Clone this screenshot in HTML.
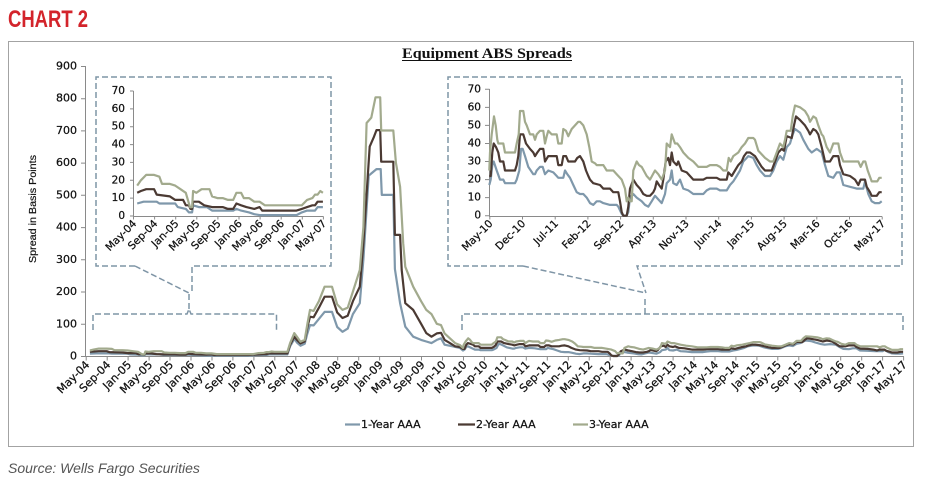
<!DOCTYPE html>
<html>
<head>
<meta charset="utf-8">
<style>
html,body{margin:0;padding:0;background:#fff;}
body{width:935px;height:494px;overflow:hidden;position:relative;}
svg{position:absolute;left:0;top:0;}
.ax{stroke:#8a8a8a;stroke-width:1;fill:none;}
.tk{font-family:"DejaVu Sans","Liberation Sans",sans-serif;fill:#111;stroke:#111;stroke-width:0.25;}
.yl{font-size:11px;text-anchor:end;dominant-baseline:central;}
.yi{font-size:10.5px;text-anchor:end;dominant-baseline:central;}
.xl{font-size:11px;text-anchor:end;dominant-baseline:central;}
.xi{font-size:10.5px;text-anchor:end;dominant-baseline:central;}
.dash{stroke:#7f95a6;stroke-width:1.5;fill:none;stroke-dasharray:6 3;}
.s1{stroke:#7f98ab;stroke-width:2.2;fill:none;stroke-linejoin:round;}
.s2{stroke:#4b3a33;stroke-width:2.2;fill:none;stroke-linejoin:round;}
.s3{stroke:#a2aa8d;stroke-width:2.2;fill:none;stroke-linejoin:round;}
</style>
</head>
<body>
<svg width="935" height="494" viewBox="0 0 935 494" xmlns="http://www.w3.org/2000/svg">
  <text x="8" y="27" transform="translate(8,0) scale(0.77,1) translate(-8,0)" style="font-family:'Liberation Sans Narrow','Liberation Sans',sans-serif;font-weight:bold;font-size:24px;fill:#d3242b;">CHART 2</text>

  <rect x="8.5" y="41.5" width="905" height="405" fill="#fff" stroke="#a3a3a3" stroke-width="1"/>

  <text x="487" y="58" textLength="170" lengthAdjust="spacingAndGlyphs" style="font-family:'Liberation Serif',serif;font-weight:bold;font-size:15px;fill:#111;text-anchor:middle;">Equipment ABS Spreads</text>
  <line x1="402" y1="60.5" x2="572" y2="60.5" stroke="#111" stroke-width="1"/>

  <text transform="translate(36,209) rotate(-90)" textLength="108" lengthAdjust="spacingAndGlyphs" style="font-family:'Liberation Sans',sans-serif;font-size:10.5px;fill:#111;stroke:#111;stroke-width:0.2;text-anchor:middle;">Spread in Basis Points</text>

  <path class="ax" d="M85.5,66 V356.5 H904"/>
  <path class="ax" d="M81,66.5H85.5M81,98.7H85.5M81,130.9H85.5M81,163.1H85.5M81,195.3H85.5M81,227.6H85.5M81,259.8H85.5M81,292H85.5M81,324.2H85.5M81,356.5H85.5"/>
  <g class="tk yl">
    <text x="77" y="66">900</text>
    <text x="77" y="98.2">800</text>
    <text x="77" y="130.4">700</text>
    <text x="77" y="162.6">600</text>
    <text x="77" y="194.9">500</text>
    <text x="77" y="227.1">400</text>
    <text x="77" y="259.3">300</text>
    <text x="77" y="291.5">200</text>
    <text x="77" y="323.8">100</text>
    <text x="77" y="356">0</text>
  </g>
  <path id="mxt" class="ax" d=""/>
  <g class="tk xl">
    <text transform="translate(87.7,363) rotate(-45)">May-04</text>
    <text transform="translate(108.7,363) rotate(-45)">Sep-04</text>
    <text transform="translate(129.6,363) rotate(-45)">Jan-05</text>
    <text transform="translate(150.6,363) rotate(-45)">May-05</text>
    <text transform="translate(171.5,363) rotate(-45)">Sep-05</text>
    <text transform="translate(192.5,363) rotate(-45)">Jan-06</text>
    <text transform="translate(213.5,363) rotate(-45)">May-06</text>
    <text transform="translate(234.4,363) rotate(-45)">Sep-06</text>
    <text transform="translate(255.4,363) rotate(-45)">Jan-07</text>
    <text transform="translate(276.3,363) rotate(-45)">May-07</text>
    <text transform="translate(297.3,363) rotate(-45)">Sep-07</text>
    <text transform="translate(318.2,363) rotate(-45)">Jan-08</text>
    <text transform="translate(339.2,363) rotate(-45)">May-08</text>
    <text transform="translate(360.2,363) rotate(-45)">Sep-08</text>
    <text transform="translate(381.1,363) rotate(-45)">Jan-09</text>
    <text transform="translate(402.1,363) rotate(-45)">May-09</text>
    <text transform="translate(423,363) rotate(-45)">Sep-09</text>
    <text transform="translate(444,363) rotate(-45)">Jan-10</text>
    <text transform="translate(465,363) rotate(-45)">May-10</text>
    <text transform="translate(485.9,363) rotate(-45)">Sep-10</text>
    <text transform="translate(506.9,363) rotate(-45)">Jan-11</text>
    <text transform="translate(527.8,363) rotate(-45)">May-11</text>
    <text transform="translate(548.8,363) rotate(-45)">Sep-11</text>
    <text transform="translate(569.7,363) rotate(-45)">Jan-12</text>
    <text transform="translate(590.7,363) rotate(-45)">May-12</text>
    <text transform="translate(611.7,363) rotate(-45)">Sep-12</text>
    <text transform="translate(632.6,363) rotate(-45)">Jan-13</text>
    <text transform="translate(653.6,363) rotate(-45)">May-13</text>
    <text transform="translate(674.6,363) rotate(-45)">Sep-13</text>
    <text transform="translate(695.5,363) rotate(-45)">Jan-14</text>
    <text transform="translate(716.5,363) rotate(-45)">May-14</text>
    <text transform="translate(737.4,363) rotate(-45)">Sep-14</text>
    <text transform="translate(758.4,363) rotate(-45)">Jan-15</text>
    <text transform="translate(779.3,363) rotate(-45)">May-15</text>
    <text transform="translate(800.3,363) rotate(-45)">Sep-15</text>
    <text transform="translate(821.3,363) rotate(-45)">Jan-16</text>
    <text transform="translate(842.2,363) rotate(-45)">May-16</text>
    <text transform="translate(863.2,363) rotate(-45)">Sep-16</text>
    <text transform="translate(884.1,363) rotate(-45)">Jan-17</text>
    <text transform="translate(905.1,363) rotate(-45)">May-17</text>
  </g>

  <polyline id="m1" class="s1" points=""/>
  <polyline id="m2" class="s2" points=""/>
  <polyline id="m3" class="s3" points=""/>

  <path class="dash" d="M93,330 V314 H187 L189,309 L191,314 H276.5 V330"/>
  <path class="dash" d="M189,309 V293"/>
  <path class="dash" d="M135,266 H96 V77 H331 V266 H192 V293"/>
  <path class="dash" d="M135,266 L189,293"/>

  <path class="dash" d="M462,330 V314 H903 V330"/>
  <path class="dash" d="M645,314 V298"/>
  <path class="dash" d="M523,266 H448 V77 H902 V266 H637 L646,293"/>
  <path class="dash" d="M523,266 L646,293"/>

  <path class="ax" d="M133.5,91 V216.5 H323.5"/>
  <path class="ax" d="M130,91H133.5M130,108.9H133.5M130,126.7H133.5M130,144.6H133.5M130,162.4H133.5M130,180.3H133.5M130,198.1H133.5M130,216H133.5"/>
  <path id="lxt" class="ax" d=""/>
  <g class="tk yi">
    <text x="125" y="91">70</text>
    <text x="125" y="108.9">60</text>
    <text x="125" y="126.7">50</text>
    <text x="125" y="144.6">40</text>
    <text x="125" y="162.4">30</text>
    <text x="125" y="180.3">20</text>
    <text x="125" y="198.1">10</text>
    <text x="125" y="216">0</text>
  </g>
  <g class="tk xi">
    <text transform="translate(135,222) rotate(-45)">May-04</text>
    <text transform="translate(156.1,222) rotate(-45)">Sep-04</text>
    <text transform="translate(177.2,222) rotate(-45)">Jan-05</text>
    <text transform="translate(198.3,222) rotate(-45)">May-05</text>
    <text transform="translate(219.4,222) rotate(-45)">Sep-05</text>
    <text transform="translate(240.5,222) rotate(-45)">Jan-06</text>
    <text transform="translate(261.6,222) rotate(-45)">May-06</text>
    <text transform="translate(282.7,222) rotate(-45)">Sep-06</text>
    <text transform="translate(303.8,222) rotate(-45)">Jan-07</text>
    <text transform="translate(324.9,222) rotate(-45)">May-07</text>
  </g>
  <polyline id="l1" class="s1" points=""/>
  <polyline id="l2" class="s2" points=""/>
  <polyline id="l3" class="s3" points=""/>

  <path class="ax" d="M489.5,89 V216.5 H882"/>
  <path class="ax" d="M485,89.3H489.5M485,107.4H489.5M485,125.4H489.5M485,143.5H489.5M485,161.5H489.5M485,179.6H489.5M485,197.6H489.5M485,215.7H489.5"/>
  <path id="rxt" class="ax" d=""/>
  <g class="tk yi">
    <text x="481" y="89.3">70</text>
    <text x="481" y="107.4">60</text>
    <text x="481" y="125.4">50</text>
    <text x="481" y="143.5">40</text>
    <text x="481" y="161.5">30</text>
    <text x="481" y="179.6">20</text>
    <text x="481" y="197.6">10</text>
    <text x="481" y="215.7">0</text>
  </g>
  <g class="tk xi">
    <text transform="translate(491.3,222) rotate(-45)">May-10</text>
    <text transform="translate(524,222) rotate(-45)">Dec-10</text>
    <text transform="translate(556.7,222) rotate(-45)">Jul-11</text>
    <text transform="translate(589.4,222) rotate(-45)">Feb-12</text>
    <text transform="translate(622.1,222) rotate(-45)">Sep-12</text>
    <text transform="translate(654.8,222) rotate(-45)">Apr-13</text>
    <text transform="translate(687.5,222) rotate(-45)">Nov-13</text>
    <text transform="translate(720.2,222) rotate(-45)">Jun-14</text>
    <text transform="translate(752.9,222) rotate(-45)">Jan-15</text>
    <text transform="translate(785.6,222) rotate(-45)">Aug-15</text>
    <text transform="translate(818.3,222) rotate(-45)">Mar-16</text>
    <text transform="translate(851,222) rotate(-45)">Oct-16</text>
    <text transform="translate(883.7,222) rotate(-45)">May-17</text>
  </g>
  <polyline id="r1" class="s1" points=""/>
  <polyline id="r2" class="s2" points=""/>
  <polyline id="r3" class="s3" points=""/>

  <line x1="345" y1="424.5" x2="360" y2="424.5" class="s1"/>
  <line x1="458" y1="424.5" x2="475" y2="424.5" class="s2"/>
  <line x1="573" y1="424.5" x2="588" y2="424.5" class="s3"/>
  <g style="font-family:'DejaVu Sans','Liberation Sans',sans-serif;font-size:11px;fill:#111;stroke:#111;stroke-width:0.25;dominant-baseline:central;">
    <text x="361" y="424.5">1-Year AAA</text>
    <text x="476" y="424.5">2-Year AAA</text>
    <text x="589" y="424.5">3-Year AAA</text>
  </g>

  <text x="8" y="473" style="font-family:'Liberation Sans',sans-serif;font-style:italic;font-size:14px;fill:#555;">Source: Wells Fargo Securities</text>
</svg>
<script>
(function(){
var L3=[[0.8,17],[1.5,20],[2.5,23],[4,23],[5,22],[5.5,18],[7,18],[8,17],[9,15],[10,13],[10.5,8],[10.8,5],[11.2,5],[11.4,14],[12,13],[13,15],[14.5,15],[15,11],[16,10],[17,10],[18,9],[19,9],[19.6,13],[20.5,13],[21,10],[22,10],[23,8],[24,8],[25,6],[32,6],[33,9],[34,10],[34.5,12],[35,12],[35.5,14],[36,13]];
var L2=[[0.8,13],[1.5,14],[2.5,15],[4,15],[4.5,12],[7,11],[8,9],[9.5,9],[10,6],[10.6,6],[10.9,4],[11.2,4],[11.4,8],[12.5,8],[13.5,6],[15,5],[17,5],[18,4],[19,4],[19.6,7],[20.5,6],[21.5,5],[23,4],[24,5],[24.5,3],[31,3],[32,4],[33,5],[34,6],[34.5,6],[35,8],[36,8]];
var L1=[[0.8,7],[2,8],[4.5,8],[5,7],[8,7],[8.5,5],[10,4],[10.6,2],[11.2,2],[11.4,6],[12.5,5],[14,5],[15,3],[19,3],[19.6,4],[20.5,3],[22,2],[23,1],[24,0.5],[31,0.5],[32,2],[33,3],[34.5,3],[35,5],[36,5]];
var M3=[[38.5,13],[39,40],[39.8,71],[40.3,60],[41,44],[41.8,50],[42.3,100],[42.8,143],[43.5,140],[44.5,170],[45.6,215],[47,215],[48,160],[49,143],[50,150],[51,200],[52.3,267],[53,400],[53.6,723],[54.5,740],[55.3,803],[56.2,803],[56.4,700],[58.7,700],[59.2,600],[60,525],[60.6,350],[61,277],[62.5,215],[64,170],[65,143],[66,130],[67,100],[67.8,96],[68.5,70],[69.5,55],[70.5,40],[71.4,34]];
var M2=[[38.5,8],[39,35],[39.8,60],[40.3,50],[41,39],[41.8,45],[42.3,90],[42.8,122],[43.5,120],[44.5,150],[45.6,184],[47,184],[48,135],[49,118],[50,125],[51,170],[52.3,215],[53,350],[54.2,650],[55,680],[55.5,701],[56.2,701],[56.4,603],[58.7,603],[59,376],[60,376],[60.3,267],[61,164],[62.5,143],[64,100],[65,71],[66,60],[67,70],[67.8,72],[68.5,50],[69.5,40],[70.5,30],[71.4,28]];
var M1=[[38.5,5],[39,30],[39.8,53],[40.3,42],[41,32],[41.8,38],[42.3,70],[42.8,96],[43.5,95],[44.5,115],[45.6,137],[47,137],[48,90],[49,75],[50,85],[51,130],[52.3,164],[53,300],[54,560],[55.5,580],[56.3,580],[56.5,500],[58.7,500],[59,270],[60,164],[61,91],[62.5,60],[64,50],[65,45],[66,40],[67,50],[67.8,55],[68.5,35],[70,30],[71.4,25]];
var R3=[[148,25],[150,35],[155,45],[162,55],[167,50],[172,42],[175,40],[190,40],[195,35],[225,35],[230,40],[236,45],[240,58],[250,58],[255,52],[260,50],[270,45],[280,45],[285,42],[290,45],[300,47],[310,47],[315,40],[320,44],[325,47],[335,45],[350,45],[355,40],[365,40],[370,48],[378,47],[385,44],[395,48],[405,50],[415,52],[420,52],[430,50],[440,45],[448,38],[455,30],[465,29],[470,28],[490,28],[500,25],[520,25],[530,23],[545,20],[555,15],[560,8],[565,10],[570,8],[575,8],[580,25],[590,30],[597,28],[605,27],[620,22],[630,20],[645,25],[655,23],[665,20],[675,25],[680,40],[690,38],[695,45],[705,40],[712,40],[720,38],[730,35],[745,32],[760,30],[775,27],[800,27],[810,28],[830,28],[840,27],[850,25],[860,25],[866,32],[872,30],[880,33],[895,35],[905,38],[915,40],[925,43],[940,43],[945,42],[955,36],[960,35],[975,32],[990,30],[1000,30],[1010,35],[1020,40],[1030,38],[1035,42],[1040,47],[1052,47],[1058,55],[1065,61],[1080,60],[1095,58],[1105,55],[1110,52],[1120,55],[1128,54],[1135,50],[1145,45],[1150,44],[1160,38],[1170,35],[1180,40],[1195,40],[1200,35],[1210,30],[1255,30],[1262,27],[1270,30],[1276,30],[1283,25],[1295,19],[1312,19],[1318,21],[1325,21]];
var R2=[[148,22],[152,22],[157,35],[161,40],[168,38],[175,35],[180,30],[190,30],[195,25],[225,25],[230,28],[235,33],[240,45],[250,45],[258,40],[270,37],[280,35],[285,33],[292,35],[300,37],[310,37],[315,30],[325,33],[350,33],[355,28],[365,28],[370,33],[378,33],[385,30],[405,30],[412,32],[420,33],[430,30],[438,25],[445,22],[450,20],[460,18],[480,17],[490,15],[510,15],[520,13],[535,13],[540,8],[545,2],[550,0],[560,0],[565,5],[570,15],[580,20],[590,17],[600,15],[610,12],[620,11],[630,11],[640,13],[645,15],[650,19],[657,17],[665,15],[670,20],[677,30],[685,32],[690,28],[695,35],[700,30],[710,28],[715,30],[725,25],[740,24],[750,22],[760,20],[790,20],[800,21],[830,21],[840,20],[860,20],[865,24],[875,22],[885,25],[895,28],[905,30],[912,33],[920,35],[930,35],[945,33],[955,30],[965,27],[975,25],[995,25],[1005,30],[1015,35],[1025,37],[1032,36],[1040,44],[1055,43],[1062,50],[1068,55],[1080,53],[1095,50],[1105,47],[1110,45],[1120,48],[1128,47],[1135,45],[1145,38],[1155,30],[1170,30],[1180,33],[1195,33],[1200,28],[1210,23],[1230,22],[1245,20],[1255,17],[1262,20],[1275,20],[1280,16],[1290,13],[1295,11],[1310,11],[1318,13],[1325,13]];
var R1=[[148,17],[152,20],[157,28],[161,30],[170,25],[180,20],[190,20],[195,18],[225,18],[230,20],[238,25],[243,37],[248,37],[255,33],[265,27],[280,23],[285,23],[290,25],[300,27],[308,27],[315,23],[325,25],[340,24],[350,22],[355,21],[370,21],[375,25],[382,23],[390,21],[400,17],[410,13],[420,12],[430,12],[440,10],[450,7],[460,6],[470,8],[480,8],[490,7],[510,6],[530,6],[535,5],[545,1],[550,0],[560,0],[565,2],[570,10],[580,12],[590,10],[605,8],[615,6],[625,5],[635,8],[645,11],[655,9],[665,7],[675,12],[680,18],[690,20],[695,25],[700,18],[710,17],[720,20],[730,15],[745,14],[760,12],[790,12],[800,14],[810,15],[830,15],[840,14],[860,14],[870,17],[880,19],[890,22],[900,25],[910,30],[925,33],[940,32],[950,28],[960,25],[975,22],[990,22],[1000,25],[1010,30],[1020,33],[1030,31],[1040,38],[1050,40],[1058,45],[1065,48],[1080,46],[1090,42],[1105,37],[1115,35],[1130,37],[1145,35],[1155,28],[1165,22],[1180,21],[1190,24],[1200,24],[1210,17],[1230,16],[1250,15],[1270,15],[1275,19],[1285,12],[1295,8],[1305,7],[1318,7],[1325,8]];
function f(n){return Math.round(n*10)/10;}
function set(id,arr,fx,fy){
  var s=arr.map(function(p){return f(fx(p[0]))+','+f(fy(p[1]));}).join(' ');
  document.getElementById(id).setAttribute('points',s);
}
function rm(a){return a.map(function(p){return [72+(p[0]-148)/14.012,p[1]];});}
var mx=function(m){return 85.7+m*5.24;}, my=function(v){return 356-v*0.3222;};
set('m1',L1.concat(M1,rm(R1)),mx,my);
set('m2',L2.concat(M2,rm(R2)),mx,my);
set('m3',L3.concat(M3,rm(R3)),mx,my);
var lx=function(m){return 133+m*5.275;}, ly=function(v){return 216-v*1.786;};
set('l1',L1,lx,ly);set('l2',L2,lx,ly);set('l3',L3,lx,ly);
var rx=function(z){return 440+z/3;}, ry=function(v){return 215.7-v*1.806;};
set('r1',R1,rx,ry);set('r2',R2,rx,ry);set('r3',R3,rx,ry);
var d='',i;
for(i=0;i<40;i++){var x=f(85.7+i*20.959)+0.5;d+='M'+x+',356.5V360.5';}
document.getElementById('mxt').setAttribute('d',d);
d='';for(i=0;i<10;i++){var x2=f(133+i*21.1)+0.5;d+='M'+x2+',216.5V219.5';}
document.getElementById('lxt').setAttribute('d',d);
d='';for(i=0;i<13;i++){var x3=f(489.3+i*32.7)+0.5;d+='M'+x3+',216.5V219.5';}
document.getElementById('rxt').setAttribute('d',d);
})();
</script>
</body>
</html>
